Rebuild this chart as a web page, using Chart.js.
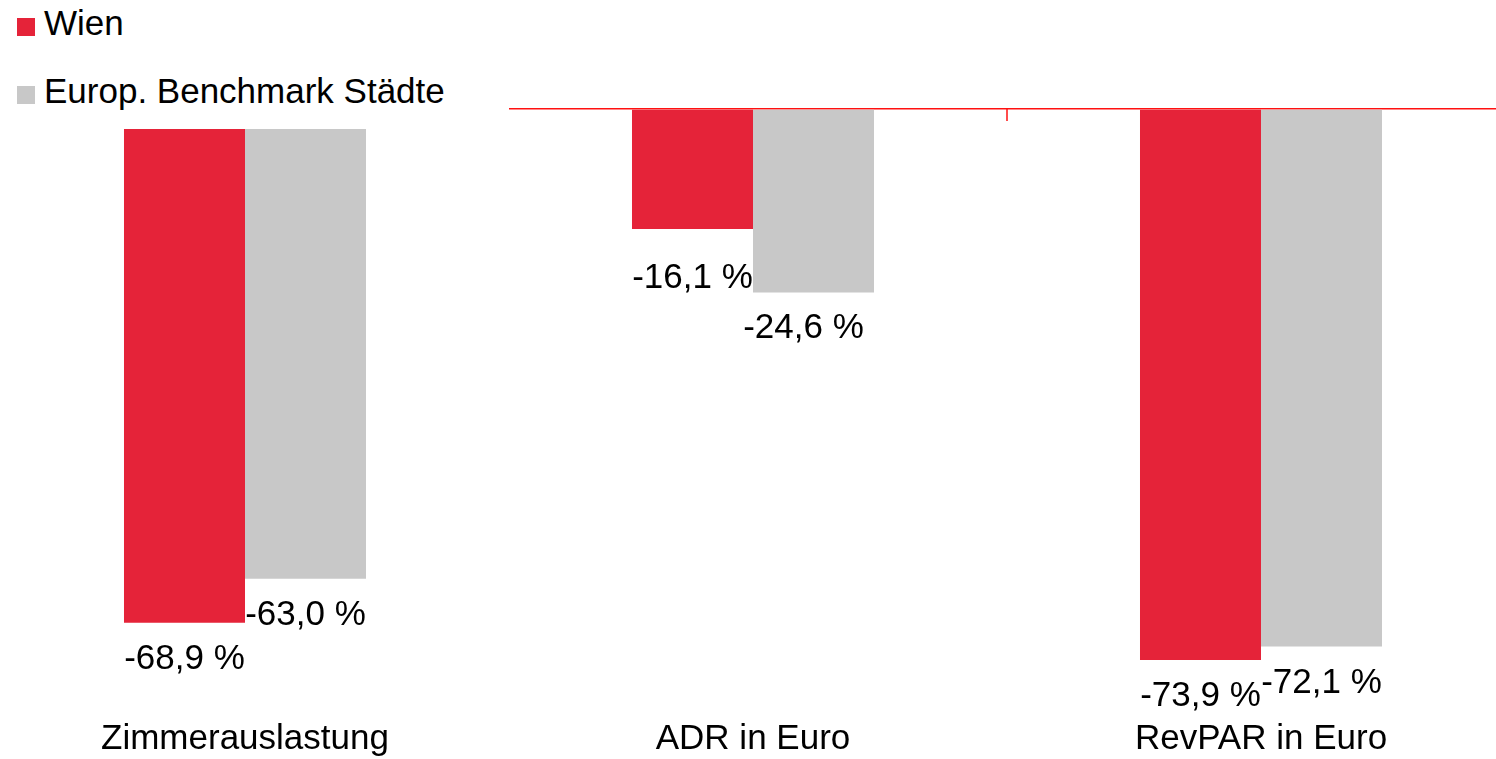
<!DOCTYPE html>
<html>
<head>
<meta charset="utf-8">
<script src="https://cdn.jsdelivr.net/npm/chart.js@4/dist/chart.umd.min.js"></script>
<style>
  body { margin: 0; overflow: hidden; background: #fff; font-family: "Liberation Sans", Arial, sans-serif; }
  #wrap { position: absolute; left: -9px; top: 0; width: 1524px; height: 759px; }
  #legend { position: absolute; left: 0; top: 0; width: 509px; height: 129px; background: #fff; z-index: 2; }
  #legend .item { position: absolute; left: 17px; font-size: 35px; line-height: 40px; color: #000; white-space: nowrap; }
  #legend .box { display: inline-block; width: 18px; height: 18px; margin-right: 9px; vertical-align: -1px; }
</style>
</head>
<body>
<div id="wrap"><canvas id="chart"></canvas></div>
<div id="legend"></div>
<script>
const categories = ["Zimmerauslastung", "ADR in Euro", "RevPAR in Euro"];
const seriesNames = ["Wien", "Europ. Benchmark Städte"];
const wienValues = [-68.9, -16.1, -73.9];
const benchmarkValues = [-63.0, -24.6, -72.1];

const colors = ["#E52339", "#C8C8C8"];
const axisRed = "#FF1010";
const fontFamily = "'Liberation Sans', Arial, sans-serif";

// small hand nudges for a couple of labels, like in the original slide
const labelNudge = [
  [[0, 0], [0, 13], [0, 0]],
  [[0, 0], [-10, 0], [0, 0]],
];

function fmt(v) {
  return v.toFixed(1).replace(".", ",") + " %";
}

// legend as html, it sits over the top-left corner like in the original
const legend = document.getElementById("legend");
const legendTops = [3, 71];
seriesNames.forEach(function (name, i) {
  const item = document.createElement("div");
  item.className = "item";
  item.style.top = legendTops[i] + "px";
  item.innerHTML = '<span class="box" style="background:' + colors[i] + '"></span>' + name;
  legend.appendChild(item);
});

const valueLabels = {
  id: "valueLabels",
  afterDatasetsDraw(chart) {
    const ctx = chart.ctx;
    ctx.save();
    ctx.font = "35px " + fontFamily;
    ctx.fillStyle = "#000";
    ctx.textAlign = "center";
    ctx.textBaseline = "alphabetic";
    chart.data.datasets.forEach(function (ds, di) {
      chart.getDatasetMeta(di).data.forEach(function (bar, i) {
        const n = labelNudge[di][i];
        ctx.fillText(fmt(ds.data[i]), bar.x + n[0], bar.y + 46 + n[1]);
      });
    });
    ctx.restore();
  },
};

const categoryTicks = {
  id: "categoryTicks",
  afterDraw(chart) {
    const x = chart.scales.x;
    const y0 = chart.scales.y.getPixelForValue(0);
    const ctx = chart.ctx;
    ctx.save();
    ctx.strokeStyle = axisRed;
    ctx.lineWidth = 1.5;
    for (let i = 0; i < categories.length - 1; i++) {
      const px = Math.round((x.getPixelForValue(i) + x.getPixelForValue(i + 1)) / 2);
      ctx.beginPath();
      ctx.moveTo(px, y0);
      ctx.lineTo(px, y0 + 12);
      ctx.stroke();
    }
    ctx.restore();
  },
};

new Chart(document.getElementById("chart"), {
  type: "bar",
  data: {
    labels: categories,
    datasets: [
      { label: seriesNames[0], data: wienValues, backgroundColor: colors[0] },
      { label: seriesNames[1], data: benchmarkValues, backgroundColor: colors[1] },
    ],
  },
  options: {
    responsive: true,
    maintainAspectRatio: false,
    animation: false,
    layout: { padding: { top: 109, bottom: -13.5, left: 0, right: 0 } },
    datasets: { bar: { categoryPercentage: 0.4764, barPercentage: 1.0 } },
    plugins: {
      legend: { display: false },
      tooltip: { enabled: false },
    },
    scales: {
      x: {
        grid: { display: false, drawTicks: false },
        border: { display: false },
        ticks: { color: "#000", font: { family: fontFamily, size: 35 }, padding: 12.5, maxRotation: 0 },
      },
      y: {
        min: -80,
        max: 0,
        ticks: { display: false, stepSize: 10 },
        border: { display: false },
        grid: {
          drawTicks: false,
          color: (c) => (c.tick && c.tick.value === 0 ? axisRed : "rgba(0,0,0,0)"),
          lineWidth: 1.5,
        },
      },
    },
  },
  plugins: [valueLabels, categoryTicks],
});
</script>
</body>
</html>
